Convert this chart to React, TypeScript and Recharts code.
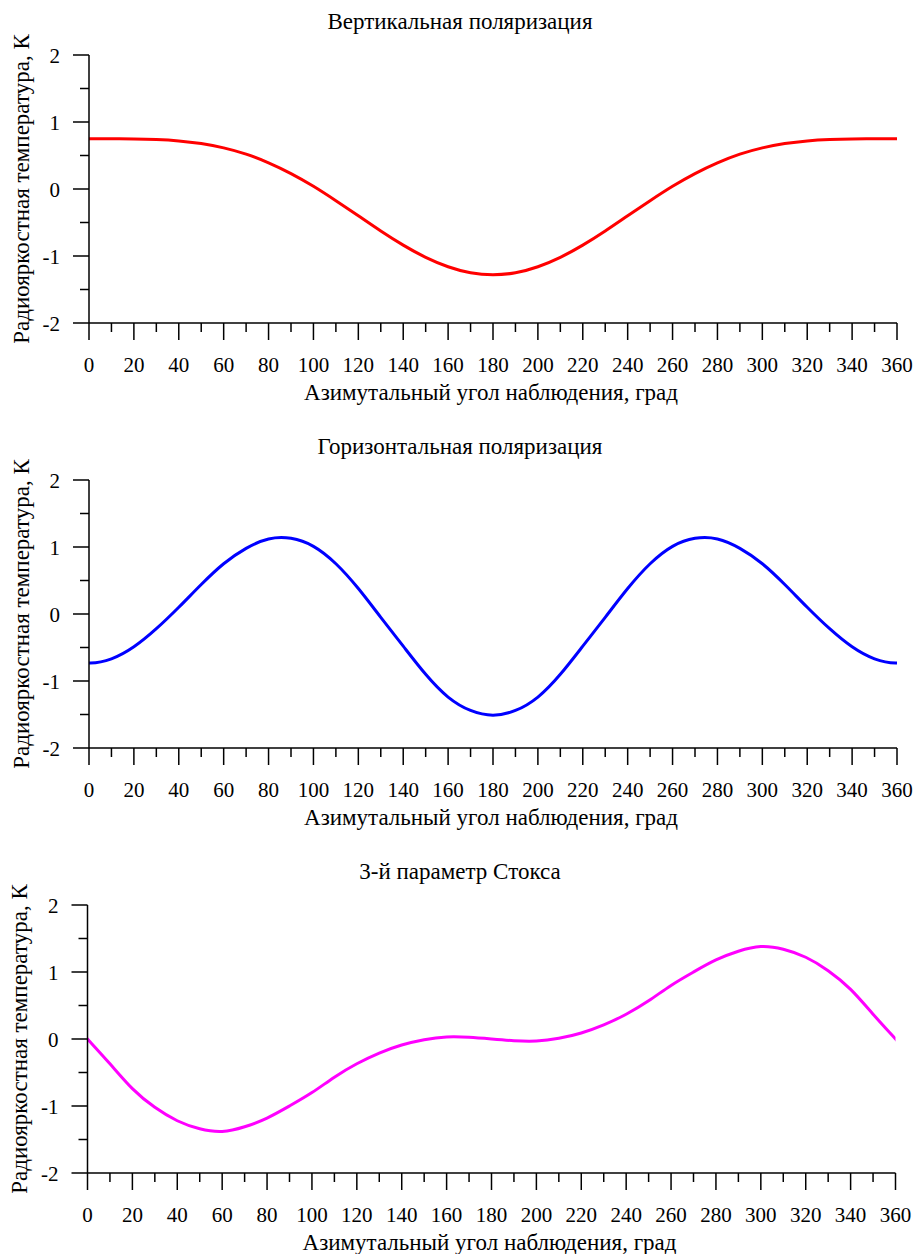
import React from 'react';
import { LineChart, Line, XAxis, YAxis, Label } from 'recharts';

// azimuth grid; -10 and 370 are the periodic wrap so the curves enter/leave the frame smoothly
const angles = [
  -10, 0, 10, 20, 30, 40, 50, 60, 70, 80, 90, 100, 110, 120, 130, 140, 150, 160, 170, 180,
  190, 200, 210, 220, 230, 240, 250, 260, 270, 280, 290, 300, 310, 320, 330, 340, 350, 360, 370,
];

const vertical = [
  0.75, 0.75, 0.75, 0.747, 0.738, 0.718, 0.678, 0.614, 0.52, 0.39, 0.23, 0.04, -0.175, -0.4, -0.627,
  -0.838, -1.02, -1.16, -1.25, -1.28,
  -1.25, -1.16, -1.02, -0.838, -0.627, -0.4, -0.175, 0.04, 0.23, 0.39, 0.52, 0.614, 0.678,
  0.718, 0.738, 0.747, 0.75, 0.75, 0.75,
];

const horizontal = [
  -0.67, -0.73, -0.67, -0.49, -0.22, 0.1, 0.44, 0.75, 0.98, 1.12, 1.13, 1.01, 0.75, 0.38, -0.05,
  -0.48, -0.9, -1.24, -1.44, -1.51,
  -1.44, -1.24, -0.9, -0.48, -0.05, 0.38, 0.75, 1.01, 1.13, 1.12, 0.98, 0.75, 0.44, 0.1,
  -0.22, -0.49, -0.67, -0.73, -0.67,
];

const stokes = [
  0.37, 0, -0.37, -0.74, -1.02, -1.22, -1.34, -1.38, -1.31, -1.18, -1.0, -0.8, -0.57, -0.37, -0.21,
  -0.09, -0.01, 0.03, 0.025, 0,
  -0.025, -0.03, 0.01, 0.09, 0.21, 0.37, 0.57, 0.8, 1.0, 1.18, 1.31, 1.38, 1.34, 1.22, 1.02,
  0.74, 0.37, 0, -0.37,
];

const xTicks = [
  0, 10, 20, 30, 40, 50, 60, 70, 80, 90, 100, 110, 120, 130, 140, 150, 160, 170, 180,
  190, 200, 210, 220, 230, 240, 250, 260, 270, 280, 290, 300, 310, 320, 330, 340, 350, 360,
];
const yTicks = [-2, -1.5, -1, -0.5, 0, 0.5, 1, 1.5, 2];

const xTitle = 'Азимутальный угол наблюдения, град';
const yTitle = 'Радиояркостная температура, К';

const FONT = '"Liberation Serif", "Times New Roman", serif';
const FS = 21;
const TITLE_FS = 23;

const XTick = (props: any) => {
  const { x, y, payload } = props;
  const major = payload.value % 20 === 0;
  return (
    <g>
      <line x1={x} x2={x} y1={y} y2={y + (major ? 17 : 9)} stroke="#000" strokeWidth={1.5} />
      {major && (
        <text x={x} y={y + 42} textAnchor="middle" dominantBaseline="central" fontFamily={FONT} fontSize={FS} fill="#000">
          {payload.value}
        </text>
      )}
    </g>
  );
};

const YTick = (props: any) => {
  const { x, y, payload } = props;
  const major = Number.isInteger(payload.value);
  return (
    <g>
      <line x1={x - (major ? 16 : 9)} x2={x} y1={y} y2={y} stroke="#000" strokeWidth={1.5} />
      {major && (
        <text x={x - 29} y={y + 1} textAnchor="end" dominantBaseline="central" fontFamily={FONT} fontSize={FS} fill="#000">
          {payload.value}
        </text>
      )}
    </g>
  );
};

const renderXTitle = (props: any) => {
  const vb = props.viewBox;
  return (
    <text x={vb.x + vb.width / 2 - 2} y={vb.y + 69} textAnchor="middle" dominantBaseline="central" fontFamily={FONT} fontSize={TITLE_FS} fill="#000">
      {xTitle}
    </text>
  );
};

const renderYTitle = (props: any) => {
  const vb = props.viewBox;
  const cx = vb.x + vb.width - 68;
  const cy = vb.y + vb.height / 2;
  return (
    <text x={cx} y={cy} transform={`rotate(-90 ${cx} ${cy})`} textAnchor="middle" dominantBaseline="central" fontFamily={FONT} fontSize={TITLE_FS} fill="#000">
      {yTitle}
    </text>
  );
};

function Panel({ title, values, color, shift = 0 }: { title: string; values: number[]; color: string; shift?: number }) {
  const data = angles.map((a, i) => ({ angle: a, v: values[i] }));
  return (
    <div style={{ position: 'relative', width: 918, height: 425 }}>
      <div
        style={{
          position: 'absolute',
          top: 8,
          left: 0,
          width: 920,
          textAlign: 'center',
          fontFamily: FONT,
          fontSize: TITLE_FS,
          lineHeight: '28px',
          color: '#000',
        }}
      >
        {title}
      </div>
      <LineChart width={918} height={425} margin={{ top: 55, right: 21 - shift, bottom: 42, left: 29 + shift }} data={data}>
        <XAxis
          dataKey="angle"
          type="number"
          domain={[0, 360]}
          allowDataOverflow
          ticks={xTicks}
          interval={0}
          height={60}
          tickSize={0}
          tickMargin={0}
          tick={<XTick />}
          axisLine={{ stroke: '#000', strokeWidth: 1.5 }}
        >
          <Label content={renderXTitle} />
        </XAxis>
        <YAxis
          type="number"
          domain={[-2, 2]}
          ticks={yTicks}
          interval={0}
          width={60}
          tickSize={0}
          tickMargin={0}
          tick={<YTick />}
          axisLine={{ stroke: '#000', strokeWidth: 1.5 }}
        >
          <Label content={renderYTitle} />
        </YAxis>
        <Line type="natural" dataKey="v" stroke={color} strokeWidth={3} dot={false} isAnimationActive={false} />
      </LineChart>
    </div>
  );
}

export default function App() {
  return (
    <div style={{ position: 'absolute', left: 0, top: 0, width: 918, height: 1254, background: '#fff', overflow: 'hidden' }}>
      <Panel title="Вертикальная поляризация" values={vertical} color="#ff0000" />
      <Panel title="Горизонтальная поляризация" values={horizontal} color="#0000ff" />
      <Panel title="3-й параметр Стокса" values={stokes} color="#ff00ff" shift={-1.5} />
    </div>
  );
}
